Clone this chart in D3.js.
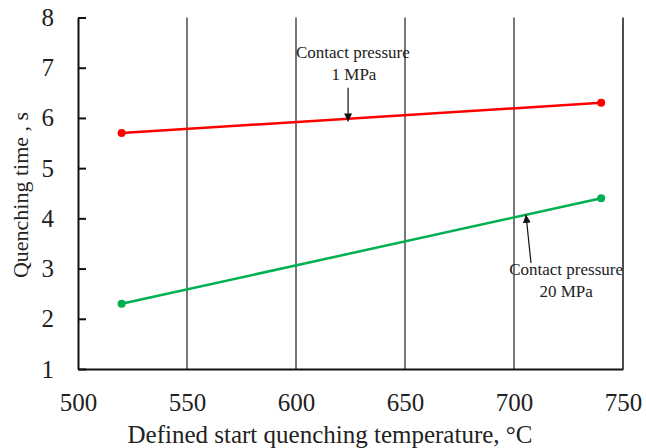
<!DOCTYPE html>
<html>
<head>
<meta charset="utf-8">
<script src="https://cdn.jsdelivr.net/npm/d3@7"></script>
<style>
  body { margin: 0; background: #fff; }
  svg text { font-family: "Liberation Serif", "Times New Roman", Times, serif; fill: #222; }
</style>
</head>
<body>
<div id="chart"></div>
<script>
// chart data
var temps = [520, 740];
var pressure1 = [5.7, 6.3];   // 1 MPa
var pressure20 = [2.3, 4.4];  // 20 MPa
var xTicks = [500, 550, 600, 650, 700, 750];
var yTicks = [1, 2, 3, 4, 5, 6, 7, 8];

var svgWidth = 646;
var svgHeight = 448;
var margin = { top: 17.5, right: 23, bottom: 79, left: 78 };
var width = svgWidth - margin.left - margin.right;
var height = svgHeight - margin.top - margin.bottom;

var svg = d3.select("#chart")
  .append("svg")
    .attr("width", svgWidth)
    .attr("height", svgHeight);

var chartGroup = svg.append("g")
  .attr("transform", `translate(${margin.left}, ${margin.top})`);

var xScale = d3.scaleLinear().domain([500, 750]).range([0, width]);
var yScale = d3.scaleLinear().domain([1, 8]).range([height, 0]);

// vertical gridlines
chartGroup.selectAll("line.grid")
  .data(xTicks.slice(1))
  .enter()
  .append("line")
  .attr("class", "grid")
  .attr("x1", d => xScale(d))
  .attr("x2", d => xScale(d))
  .attr("y1", 0)
  .attr("y2", height)
  .attr("stroke", d => d === 750 ? "#222" : "#555")
  .attr("stroke-width", 1.6);

// x axis
var bottomAxis = d3.axisBottom(xScale).tickValues(xTicks)
  .tickFormat(d3.format("d")).tickSize(0).tickPadding(24);
var xAxis = chartGroup.append("g")
  .attr("transform", `translate(0, ${height})`)
  .call(bottomAxis)
  .attr("font-family", "Liberation Serif")
  .attr("font-size", 25);
xAxis.select(".domain").attr("stroke", "#111").attr("stroke-width", 2);

// y axis with inward ticks
var leftAxis = d3.axisLeft(yScale).tickValues(yTicks)
  .tickFormat(d3.format("d")).tickSizeInner(-8).tickSizeOuter(0).tickPadding(24);
var yAxis = chartGroup.append("g")
  .call(leftAxis)
  .attr("font-family", "Liberation Serif")
  .attr("font-size", 25);
yAxis.select(".domain").attr("stroke", "#111").attr("stroke-width", 2);
yAxis.selectAll("line").attr("stroke", "#111").attr("stroke-width", 2);

// series lines
var series = [
  { values: pressure1, color: "#ff0000" },
  { values: pressure20, color: "#00b050" }
];
var line = d3.line()
  .x((d, i) => xScale(temps[i]))
  .y(d => yScale(d));

series.forEach(function(s) {
  chartGroup.append("path")
    .datum(s.values)
    .attr("d", line)
    .attr("fill", "none")
    .attr("stroke", s.color)
    .attr("stroke-width", 2.5);
  chartGroup.selectAll(null)
    .data(s.values)
    .enter()
    .append("circle")
    .attr("cx", (d, i) => xScale(temps[i]))
    .attr("cy", d => yScale(d))
    .attr("r", 4)
    .attr("fill", s.color);
});

// arrow marker
svg.append("defs").append("marker")
  .attr("id", "arrow")
  .attr("viewBox", "0 0 10 10")
  .attr("refX", 10).attr("refY", 5)
  .attr("markerWidth", 8).attr("markerHeight", 8)
  .attr("markerUnits", "userSpaceOnUse")
  .attr("orient", "auto")
  .append("path")
  .attr("d", "M0,0 L10,5 L0,10 Z")
  .attr("fill", "#111");

// annotation for 1 MPa
chartGroup.append("line")
  .attr("x1", xScale(623.9)).attr("y1", yScale(6.6))
  .attr("x2", xScale(623.9)).attr("y2", yScale(5.93))
  .attr("stroke", "#111").attr("stroke-width", 1.2)
  .attr("marker-end", "url(#arrow)");
chartGroup.append("text")
  .attr("x", xScale(626.1)).attr("y", yScale(7.19))
  .attr("text-anchor", "middle")
  .style("font-size", "17px")
  .text("Contact pressure");
chartGroup.append("text")
  .attr("x", xScale(626.6)).attr("y", yScale(6.75))
  .attr("text-anchor", "middle")
  .style("font-size", "17px")
  .text("1 MPa");

// annotation for 20 MPa
chartGroup.append("line")
  .attr("x1", xScale(707.8)).attr("y1", yScale(3.11))
  .attr("x2", xScale(705.5)).attr("y2", yScale(4.07))
  .attr("stroke", "#111").attr("stroke-width", 1.2)
  .attr("marker-end", "url(#arrow)");
chartGroup.append("text")
  .attr("x", xScale(723.9)).attr("y", yScale(2.87))
  .attr("text-anchor", "middle")
  .style("font-size", "17px")
  .text("Contact pressure");
chartGroup.append("text")
  .attr("x", xScale(723.9)).attr("y", yScale(2.43))
  .attr("text-anchor", "middle")
  .style("font-size", "17px")
  .text("20 MPa");

// axis titles
svg.append("text")
  .attr("x", 330)
  .attr("y", 443)
  .attr("text-anchor", "middle")
  .style("font-size", "25px")
  .text("Defined start quenching temperature, °C");

svg.append("text")
  .attr("transform", "rotate(-90)")
  .attr("x", -195)
  .attr("y", 28)
  .attr("text-anchor", "middle")
  .style("font-size", "22px")
  .text("Quenching time , s");
</script>
</body>
</html>
